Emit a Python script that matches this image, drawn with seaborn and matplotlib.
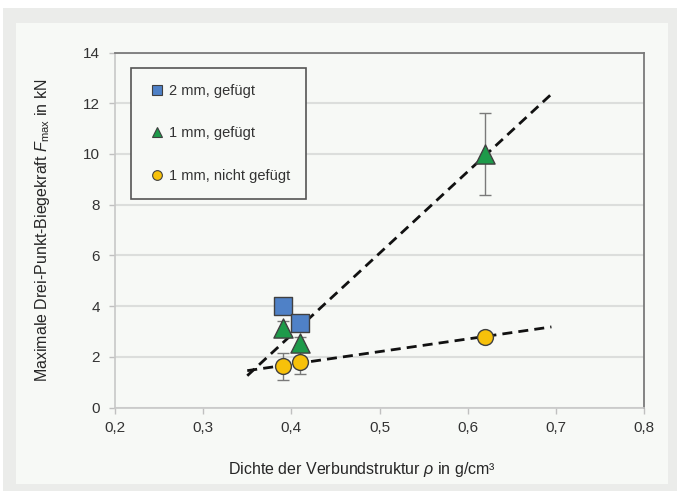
import numpy as np
import pandas as pd
import matplotlib
matplotlib.use("Agg")
import matplotlib.pyplot as plt
from matplotlib.patches import Rectangle
from matplotlib.lines import Line2D
import seaborn as sns

# ---- data ----
series_names = ["2 mm, gefügt", "1 mm, gefügt", "1 mm, nicht gefügt"]
x_2mm = [0.39, 0.41]
y_2mm = [4.02, 3.32]
e_2mm = [0.15, 0.15]
x_1mm = [0.39, 0.41, 0.62]
y_1mm = [3.12, 2.55, 10.0]
e_1mm = [0.3, 0.25, 1.63]
x_1mm_ng = [0.39, 0.41, 0.62]
y_1mm_ng = [1.62, 1.79, 2.8]
e_1mm_ng = [0.53, 0.45, 0.1]
trend_range = [0.35, 0.695]
x_ticks = [0.2, 0.3, 0.4, 0.5, 0.6, 0.7, 0.8]
y_ticks = [0, 2, 4, 6, 8, 10, 12, 14]

colors = {"2 mm, gefügt": "#4f81c7", "1 mm, gefügt": "#1e9a4a", "1 mm, nicht gefügt": "#f7c10a"}
markers = {"2 mm, gefügt": "s", "1 mm, gefügt": "^", "1 mm, nicht gefügt": "o"}
sizes = {"2 mm, gefügt": 150, "1 mm, gefügt": 190, "1 mm, nicht gefügt": 130}

sns.set_style("white")
plt.rcParams["font.family"] = ["Liberation Sans", "DejaVu Sans"]
plt.rcParams["mathtext.fontset"] = "custom"
plt.rcParams["mathtext.rm"] = "Liberation Sans"
plt.rcParams["mathtext.it"] = "Liberation Sans:italic"
plt.rcParams["text.color"] = "#333333"

fig = plt.figure(figsize=(6.77, 4.96), dpi=100)
fig.patch.set_facecolor("white")
W, H = 677, 496
fig.patches.append(Rectangle((3 / W, 1 - 491 / H), 674 / W, 483 / H, transform=fig.transFigure,
                             facecolor="#ebecea", edgecolor="none", zorder=-10))
fig.patches.append(Rectangle((16 / W, 1 - 484 / H), 652 / W, 461 / H, transform=fig.transFigure,
                             facecolor="#f7f9f6", edgecolor="none", zorder=-9))

ax = fig.add_axes([115 / W, 1 - 407.5 / H, 529 / W, 355 / H])
ax.set_facecolor("#f7f9f6")

df = pd.concat([
    pd.DataFrame({"x": x_2mm, "y": y_2mm, "e": e_2mm, "s": series_names[0]}),
    pd.DataFrame({"x": x_1mm, "y": y_1mm, "e": e_1mm, "s": series_names[1]}),
    pd.DataFrame({"x": x_1mm_ng, "y": y_1mm_ng, "e": e_1mm_ng, "s": series_names[2]}),
], ignore_index=True)

# trend lines (linear fits of the two 1 mm series)
xr = np.array(trend_range)
for xs, ys in [(x_1mm, y_1mm), (x_1mm_ng, y_1mm_ng)]:
    k, d = np.polyfit(xs, ys, 1)
    sns.lineplot(x=xr, y=k * xr + d, ax=ax, color="#111111", lw=2.0,
                 linestyle=(0, (3.6, 2.2)), zorder=3)

# error bars
for name in series_names:
    sub = df[df.s == name]
    ax.errorbar(sub.x, sub.y, yerr=sub.e, fmt="none", ecolor="#7a7a7a",
                elinewidth=1.0, capsize=4, capthick=1.0, zorder=4)

# markers
for name in series_names:
    sub = df[df.s == name]
    sns.scatterplot(data=sub, x="x", y="y", ax=ax, color=colors[name], marker=markers[name],
                    s=sizes[name], edgecolor="#404040", linewidth=1.0, zorder=5, legend=False)

ax.set_xlim(0.2, 0.8)
ax.set_ylim(0, 14)
ax.set_xticks(x_ticks)
ax.set_yticks(y_ticks)
ax.set_xticklabels([f"{v:.1f}".replace(".", ",") for v in x_ticks], fontsize=11)
ax.set_yticklabels([str(v) for v in y_ticks], fontsize=11)
ax.tick_params(axis="both", which="major", length=4, width=1, color="#c0c0c0",
               labelcolor="#333333", direction="out", bottom=True, left=True)
ax.tick_params(axis="y", pad=7)
ax.tick_params(axis="x", pad=6)
ax.yaxis.grid(True, color="#dcdedc", lw=1.5)
ax.xaxis.grid(False)
ax.set_axisbelow(True)
for side in ["top", "right"]:
    ax.spines[side].set_color("#7a7a7a")
    ax.spines[side].set_linewidth(1.3)
for side in ["left", "bottom"]:
    ax.spines[side].set_color("#c8c8c8")
    ax.spines[side].set_linewidth(1.2)

ax.set_xlabel(r"Dichte der Verbundstruktur $\mathit{\rho}$ in g/cm³", fontsize=11.5)
ax.set_ylabel(r"Maximale Drei-Punkt-Biegekraft $\mathit{F}_{\mathrm{max}}$ in kN", fontsize=11.5)
ax.xaxis.set_label_coords(0.467, -0.148)
ax.yaxis.set_label_coords(-0.12, 0.5)

handles = [Line2D([], [], linestyle="none", marker=markers[n], markersize=ms, markerfacecolor=colors[n],
                  markeredgecolor="#404040", markeredgewidth=0.8, label=n)
           for n, ms in zip(series_names, [6.5, 7.5, 7])]
leg = ax.legend(handles=handles, loc="upper left", bbox_to_anchor=(16 / 529, 1 - 15.5 / 355),
                frameon=True, fancybox=False, fontsize=10.5, labelspacing=1.95,
                handletextpad=0.2, handlelength=1.3, borderpad=1.1, borderaxespad=0)
leg.get_frame().set_edgecolor("#555555")
leg.get_frame().set_linewidth(1.2)
leg.get_frame().set_facecolor("#f7f9f6")
leg.get_frame().set_alpha(1)
for t in leg.get_texts():
    t.set_color("#333333")

fig.savefig("out.png", dpi=100)
